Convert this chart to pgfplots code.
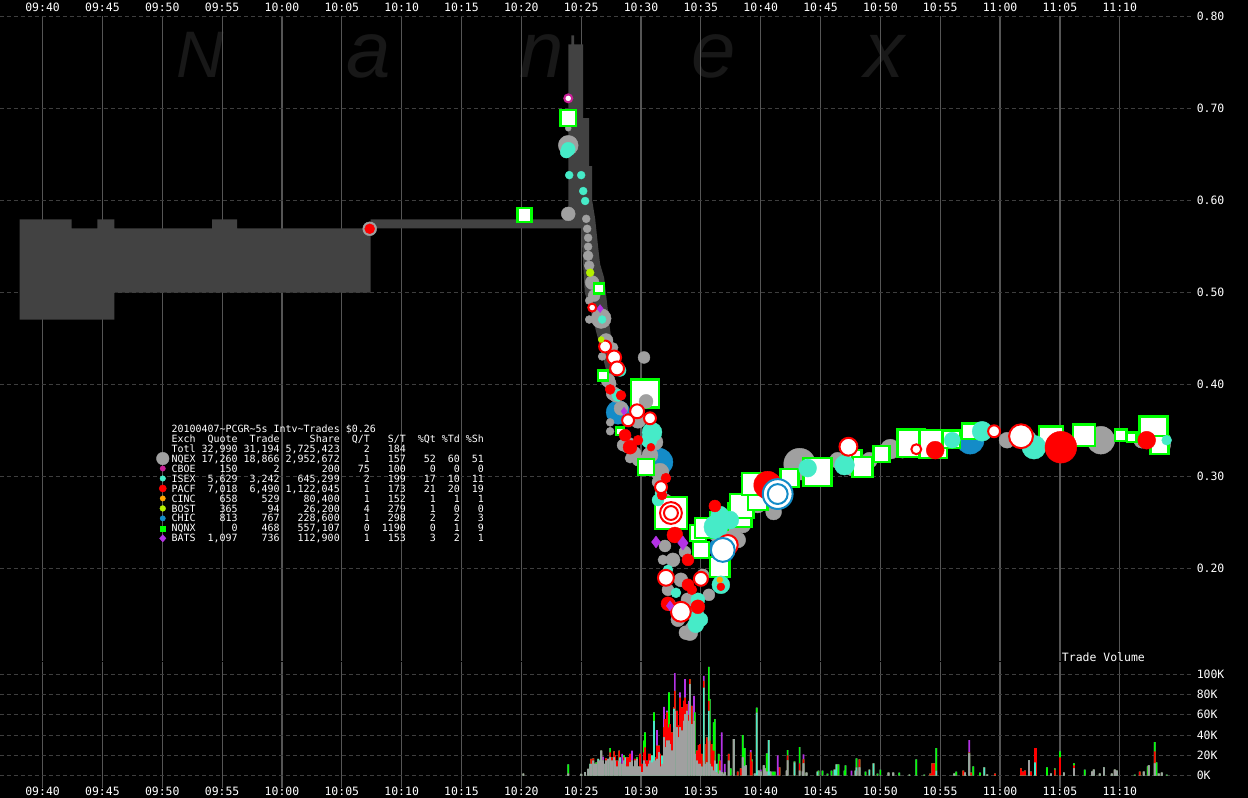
\documentclass[border=0pt]{standalone}
\usepackage{fontspec}
\usepackage{pgfplots}
\usepackage{pgfplotstable}
\pgfplotsset{compat=1.18}
\newfontfamily\monofont{DejaVu Sans Mono}
\newfontfamily\wmfont{Liberation Sans}
\newcommand\axfont{\monofont\fontsize{11.5bp}{12bp}\selectfont}
\newcommand\legfont{\monofont\fontsize{10bp}{10bp}\selectfont}
\definecolor{nqex}{RGB}{160,160,160}
\definecolor{cboe}{RGB}{200,30,150}
\definecolor{isex}{RGB}{70,235,200}
\definecolor{pacf}{RGB}{255,0,0}
\definecolor{cinc}{RGB}{255,165,0}
\definecolor{bost}{RGB}{180,240,0}
\definecolor{chic}{RGB}{20,140,200}
\definecolor{nqnx}{RGB}{0,255,0}
\definecolor{bats}{RGB}{180,50,230}
\definecolor{band}{RGB}{66,66,66}
\definecolor{vgrid}{RGB}{85,85,85}
\definecolor{hgrid}{RGB}{62,62,62}
\definecolor{wm}{RGB}{24,24,24}
\newlength\cw
\newcommand\trow[9]{\makebox[4\cw][l]{#1}\makebox[7\cw][r]{#2}\makebox[7\cw][r]{#3}\makebox[10\cw][r]{#4}\makebox[5\cw][r]{#5}\makebox[6\cw][r]{#6}\makebox[5\cw][r]{#7}\makebox[4\cw][r]{#8}\makebox[4\cw][r]{#9}}
\pgfplotsset{
 base/.style={only marks, scatter, forget plot,
   visualization depends on={\thisrow{r}\as\msz},
   scatter/@pre marker code/.code={\pgfsetplotmarksize{\msz pt}\scope[#1]},
   scatter/@post marker code/.code={\endscope}},
 dot/.style={base={draw=#1, fill=#1, line width=0.4bp}, mark=*},
 ring/.style={base={draw=#1, fill=white, line width=2bp}, mark=*},
 sq/.style={base={draw=nqnx, fill=white, line width=2.5bp}, mark=square*},
 dia/.style={base={draw=#1, fill=#1, line width=0.4bp}, mark=diamond*},
 vb/.style={ybar, bar width=1.7bp, bar shift=0pt, draw=none, fill=#1, forget plot},
 timex/.style={xmin=6.4167, xmax=106,
   xtick={10,15,20,25,30,35,40,45,50,55,60,65,70,75,80,85,90,95,100},
   xticklabels={09:40,09:45,09:50,09:55,10:00,10:05,10:10,10:15,10:20,10:25,10:30,10:35,10:40,10:45,10:50,10:55,11:00,11:05,11:10},
   xmajorgrids, ymajorgrids,
   x grid style={vgrid, line width=1.2bp, solid},
   y grid style={hgrid, line width=1bp, dash pattern=on 4bp off 3bp},
   axis line style={draw=none}, tick style={draw=none},
   yticklabel pos=right,
   yticklabel style={font=\axfont, text=white, anchor=west, inner sep=0pt, xshift=5bp}},
}
% ---------------- trade markers: t = minutes after 09:30, p = price, r = size
\pgfplotstableread{
t p r
37.33 0.5693 7
53.92 0.5855 7
53.92 0.6785 3
53.92 0.6600 10
55.42 0.5801 4
55.50 0.5693 4
55.58 0.5595 4
55.58 0.5498 4
55.58 0.5400 5
55.67 0.5292 5
55.92 0.5108 7
56.08 0.4967 6
55.67 0.4913 4
56.67 0.4718 10
55.67 0.4707 4
57.08 0.4479 7
57.67 0.4403 5
56.75 0.4306 4
57.25 0.4046 7
57.42 0.4013 6
57.67 0.3905 7
57.92 0.3883 7
58.33 0.3742 7
60.25 0.4295 6
57.42 0.3590 4
57.42 0.3493 4
59.75 0.3612 8
58.92 0.3342 8
58.50 0.3342 6
59.42 0.3255 7
59.08 0.3201 5
59.75 0.3180 6
60.75 0.3234 8
61.17 0.3374 8
61.58 0.3049 9
61.42 0.2941 6
62.08 0.2746 6
62.00 0.2247 6
63.67 0.2182 6
61.83 0.2096 5
62.67 0.2096 7
62.08 0.1933 6
63.33 0.1879 7
62.25 0.1771 6
62.42 0.1608 6
63.92 0.1662 7
63.08 0.1446 7
63.75 0.1305 7
64.08 0.1305 8
64.33 0.1360 7
65.17 0.1933 6
65.67 0.1716 6
66.58 0.2420 13
66.25 0.2475 8
67.50 0.2420 10
68.08 0.2312 8
68.50 0.2475 8
69.75 0.2692 8
71.08 0.2616 8
73.25 0.3136 16
76.42 0.3178 8
77.67 0.3093 8
79.08 0.3178 8
80.83 0.3299 10
81.83 0.3288 8
88.83 0.3493 6
90.58 0.3396 8
92.25 0.3396 10
94.25 0.3374 7
98.42 0.3396 14
101.83 0.3396 8
103.50 0.3342 9
}\nqexT
\pgfplotstableread{
t p r
60.42 0.3818 7
}\nqexF
\pgfplotstableread{
t p r
53.92 0.6557 7
53.75 0.6526 6
54.00 0.6276 4
55.00 0.6276 4
55.17 0.6103 4
55.33 0.5995 4
56.75 0.4707 4
58.25 0.4154 6
58.08 0.3883 6
60.92 0.3482 10
60.67 0.3396 8
61.67 0.2822 6
61.42 0.2746 6
66.25 0.2453 12
66.58 0.2583 9
67.42 0.2529 9
66.67 0.1825 9
64.58 0.1500 8
64.58 0.1391 8
64.75 0.1662 7
65.00 0.1446 7
62.92 0.1738 5
62.25 0.1987 5
73.92 0.3093 9
77.00 0.3125 10
86.00 0.3396 8
88.50 0.3493 10
92.83 0.3320 12
103.92 0.3396 5
}\isexT
\pgfplotstableread{
t p r
37.33 0.5693 5
58.33 0.3883 5
57.42 0.3948 5
58.67 0.3450 6
59.75 0.3396 5
59.08 0.3320 7
60.83 0.3320 4
62.08 0.2984 5
61.75 0.2800 5
62.83 0.2366 8
63.92 0.2096 6
62.25 0.1619 7
64.75 0.1586 7
64.25 0.1771 5
61.83 0.1879 5
63.92 0.1825 6
66.83 0.2171 8
66.17 0.2681 6
66.67 0.1803 4
70.58 0.2908 14
84.58 0.3288 9
95.08 0.3320 16
102.25 0.3396 9
}\pacfT
\pgfplotstableread{
t p r
55.92 0.4837 4
57.00 0.4414 6
57.75 0.4295 7
58.00 0.4176 7
58.92 0.3612 6
59.67 0.3710 7
60.75 0.3634 6
61.67 0.2886 6
62.50 0.2605 11
62.50 0.2605 7
62.08 0.1901 8
63.33 0.1532 10
65.00 0.1890 7
67.25 0.2258 10
77.33 0.3325 9
83.00 0.3298 5
89.50 0.3493 6
91.75 0.3439 12
}\pacfR
\pgfplotstableread{
t p r
58.08 0.3699 12
61.50 0.3158 14
66.50 0.2225 10
87.50 0.3396 14
}\chicT
\pgfplotstableread{
t p r
71.42 0.2811 15
71.42 0.2811 10
66.83 0.2204 12
}\chicR
\pgfplotstableread{
t p r
50.25 0.5844 7
53.92 0.6895 8
56.50 0.5043 5
56.83 0.4100 5
58.25 0.3493 4
60.33 0.3905 14
60.42 0.3104 8
62.50 0.2605 16
64.75 0.2388 8
65.00 0.2204 8
65.33 0.2442 10
66.50 0.2518 9
66.58 0.2020 10
68.25 0.2583 12
68.42 0.2681 12
69.75 0.2746 10
69.33 0.2919 11
72.42 0.2984 9
74.75 0.3049 14
77.67 0.3190 9
78.50 0.3104 10
80.08 0.3244 8
82.58 0.3363 14
84.42 0.3353 14
85.92 0.3406 9
87.50 0.3493 8
94.25 0.3417 12
97.00 0.3450 11
100.08 0.3450 6
101.00 0.3428 5
102.83 0.3504 14
103.33 0.3342 9
}\nqnxT
\pgfplotstableread{
t p r
56.58 0.4826 4
58.58 0.3710 4
61.25 0.2290 6
63.50 0.2279 7
62.42 0.1597 5
}\batsT
\pgfplotstableread{
t p r
55.75 0.5216 4
56.67 0.4490 3
}\bostT
\pgfplotstableread{
t p r
66.58 0.1879 3
}\cincT
\pgfplotstableread{
t p r
53.92 0.7110 4
}\cboeT
% ---------------- volume (K shares), cumulative layers: gray, +turq, +red, +green, top
\pgfplotstableread{
t g q r n b
50.17 2 2 2 2 2
53.92 2 2 2 11 11
55.00 1.6 1.6 1.6 1.6 1.6
55.33 3.3 3.3 3.3 3.3 3.3
55.58 6.6 6.6 6.6 6.6 6.6
55.75 8.9 11.5 11.5 11.5 11.5
55.83 11.5 11.5 16.4 16.4 16.4
56.00 14.8 14.8 17 17 17
56.17 11.5 11.5 11.5 11.5 11.5
56.25 11.5 11.5 11.5 13 13
56.42 14.8 16.4 16.4 16.4 16.4
56.58 14.8 14.8 14.8 14.8 14.8
56.67 24.6 24.6 24.6 24.6 24.6
56.83 14.8 14.8 14.8 14.8 18.7
57.00 11.5 11.5 11.5 11.5 11.5
57.08 14.8 14.8 17 17 17
57.25 16.4 16.4 16.4 16.4 16.4
57.42 18 18 23 27.2 27.2
57.58 14.8 14.8 18 18 18
57.75 18 18 23.9 23.9 23.9
57.83 14.8 14.8 19.7 19.7 19.7
58.00 8.9 8.9 14.8 14.8 14.8
58.17 14.8 14.8 24.6 24.6 24.6
58.25 13 18 18 18 18
58.42 11.5 11.5 11.5 11.5 21.3
58.58 14.8 14.8 18 20 20
58.67 11.5 18 18 18 18
58.83 8.9 8.9 18 18 18
59.00 8.9 8.9 18 18 18
59.08 13 13 21.3 21.3 21.3
59.25 14.8 14.8 14.8 14.8 24.6
59.42 8.9 8.9 8.9 8.9 8.9
59.50 14.8 14.8 16.4 16.4 16.4
59.67 16.4 16.4 16.4 18 18
59.83 8.9 8.9 8.9 8.9 8.9
59.92 8.9 8.9 21.3 21.3 21.3
60.08 3.3 3.3 11.5 11.5 11.5
60.25 14.8 14.8 23 34.4 34.4
60.33 11.5 11.5 27.9 42.6 42.6
60.50 8.9 8.9 14.8 14.8 14.8
60.67 11.5 11.5 21.3 21.3 21.3
60.75 14.8 14.8 21.3 21.3 21.3
60.92 13 20 20 20 20
61.08 14.8 54.1 54.1 62.3 62.3
61.17 14.8 14.8 18 18 18
61.33 16.4 16.4 29.5 29.5 44.9
61.50 23 23 29.5 29.5 29.5
61.58 8.9 8.9 21.3 21.3 21.3
61.75 11.5 19.7 19.7 19.7 19.7
61.92 37.7 37.7 47.5 47.5 67.9
62.00 27.9 27.9 55.7 55.7 55.7
62.17 34.4 34.4 62.3 62.3 64
62.33 34.4 34.4 47.5 82 82
62.42 31.1 31.1 50.8 50.8 50.8
62.58 24.6 24.6 42.6 42.6 42.6
62.75 47.5 66 67.2 67.2 67.2
62.83 63.9 63.9 83.6 83.6 101
63.00 47.5 47.5 63.9 63.9 63.9
63.17 37.7 37.7 49.2 49.2 49.2
63.25 47.5 47.5 77 77 82
63.42 44.3 44.3 67.2 67.2 67.2
63.58 54.1 54.1 73.8 73.8 73.8
63.67 60.7 60.7 77 77 95.1
63.83 63.9 63.9 70.5 70.5 70.5
64.00 54.1 54.1 60 60 73.8
64.08 90.2 90.2 95.1 95.1 95.1
64.25 50.8 50.8 68.9 68.9 68.9
64.42 54.1 54.1 54.1 54.1 78.7
64.50 21.3 21.3 21.3 62.3 62.3
64.67 14.8 14.8 24.6 24.6 24.6
64.83 11.5 11.5 30 30 30
64.92 11.5 11.5 31.1 31.1 31.1
65.08 8.9 8.9 21.3 21.3 21.3
65.25 14.8 86.9 93.4 93.4 98.4
65.33 11.5 11.5 31.1 31.1 31.1
65.50 13 13 37.7 37.7 37.7
65.67 34.4 63.9 73.8 107.2 107.2
65.75 11.5 11.5 34.4 75.4 75.4
65.92 8.9 8.9 31.1 31.1 31.1
66.08 4.9 4.9 24.6 52.5 52.5
66.17 14.8 14.8 14.8 55.7 55.7
66.33 3.3 11.5 11.5 11.5 11.5
66.50 1.6 1.6 1.6 21.3 21.3
66.58 4.9 4.9 14.8 14.8 14.8
66.75 3.3 3.3 3.3 3.3 42.6
66.92 1.6 1.6 1.6 1.6 1.6
67.00 3.3 3.3 3.3 3.3 11.5
67.33 14.8 14.8 21.3 21.3 21.3
67.50 0 0 0 7 7
67.75 36 36 36 36 36
68.08 0 0 4 4 4
68.33 0 0 7 7 7
68.50 18 18 18 40 40
68.67 9 9 9 27 27
68.75 10 10 10 10 10
69.17 0 0 23 23 25
69.25 0 0 14 16 16
69.50 2 2 2 2 2
69.67 0 62 62 67 67
69.83 5 5 5 5 5
70.00 4 4 4 4 6
70.25 10 10 10 10 10
70.33 7 7 7 7 7
70.50 4 4 4 22 22
70.67 0 35 35 35 35
70.83 4 4 4 4 4
71.00 0 0 0 4 4
71.17 0 0 0 4 4
71.42 0 0 0 0 20
71.58 0 0 8 8 8
72.17 5 5 5 5 5
72.25 15 15 20 25 25
72.83 0 13 13 14 14
73.25 5 5 12 28 28
73.50 4 4 5 5 5
73.58 12 12 16 16 21
73.83 3 3 3 3 3
74.75 0 4 4 4 4
74.83 0 0 0 5 5
75.17 0 0 0 5 5
75.58 0 0 0 2 2
75.92 0 0 0 5 5
76.17 0 6 6 6 6
76.33 0 11 11 11 11
76.50 0 0 0 11 11
77.00 0 0 0 5 5
77.08 0 0 0 10 10
77.58 0 0 0 0 5
77.92 0 5 5 5 5
78.00 5 8 8 17 17
78.25 8 8 16 16 16
78.75 0 0 0 4 4
79.08 0 6 6 6 6
79.42 0 12 12 12 12
79.75 0 0 0 2 2
80.00 0 0 0 6 6
80.67 3 3 3 3 3
81.08 3 3 3 3 3
81.58 0 0 0 3 3
82.42 0 1 1 1 1
83.00 0 0 0 16 16
83.67 0 0 0 1 1
84.17 0 0 2 2 2
84.33 0 0 12 12 12
84.50 0 0 12 12 12
84.67 0 5 5 27 27
86.17 2 2 2 2 2
86.33 0 0 0 4 4
86.92 0 0 5 5 5
87.08 3 3 3 3 3
87.42 22 22 23 23 35
87.58 0 0 3 3 3
87.75 0 0 0 9 9
88.33 0 0 0 3 3
88.67 0 8 8 8 8
88.92 1 1 1 1 1
89.58 0 0 2 2 2
91.75 0 0 7 7 7
91.92 0 0 4 4 4
92.08 0 0 5 5 5
92.42 15 15 15 15 15
92.58 0 0 4 4 4
92.92 0 13 27 27 27
93.00 0 0 27 27 27
93.92 0 0 0 8 8
94.25 2 2 2 2 2
94.58 0 0 6 7 7
95.00 0 0 18 24 24
95.33 3 3 3 3 3
96.17 7 7 10 12 12
97.08 0 0 0 6 6
97.67 4 4 4 4 4
97.83 6 6 6 6 6
98.33 2 2 2 2 2
98.67 8 8 8 8 8
99.33 2 2 2 2 2
99.58 6 6 6 6 6
99.75 5 5 5 5 5
101.25 0 0 0 1 1
101.67 0 0 4 4 4
102.00 4 4 4 4 4
102.33 0 0 0 9 9
102.42 10 10 10 10 10
102.92 12 12 24 33 33
103.08 0 0 0 13 13
103.25 2 2 2 2 2
103.50 3 3 3 3 3
103.92 0 0 0 1 1
}\volT
\begin{document}
\settowidth{\cw}{\legfont 0}
\begin{tikzpicture}[x=1bp,y=1bp]
\fill[black] (-6,-6) rectangle (1254,806);
% watermark
\node[anchor=base, inner sep=0pt, text height=48bp, text depth=0pt, text=wm, font=\wmfont\itshape\fontsize{66bp}{66bp}\selectfont] at (197,722) {N};
\node[anchor=base, inner sep=0pt, text height=42bp, text depth=0pt, text=wm, font=\wmfont\itshape\fontsize{80bp}{80bp}\selectfont] at (366,722) {a};
\node[anchor=base, inner sep=0pt, text height=42bp, text depth=0pt, text=wm, font=\wmfont\itshape\fontsize{80bp}{80bp}\selectfont] at (540,722) {n};
\node[anchor=base, inner sep=0pt, text height=42bp, text depth=0pt, text=wm, font=\wmfont\itshape\fontsize{80bp}{80bp}\selectfont] at (712,722) {e};
\node[anchor=base, inner sep=0pt, text height=42bp, text depth=0pt, text=wm, font=\wmfont\itshape\fontsize{80bp}{80bp}\selectfont] at (883,722) {x};
% price axis
\begin{axis}[at={(-3,149)}, anchor=south west, scale only axis, width=1195bp, height=646bp,
  timex, ymin=0.1, ymax=0.8,
  xticklabel pos=upper,
  xticklabel style={font=\axfont, text=white, anchor=base, yshift=4.9bp},
  ytick={0.2,0.3,0.4,0.5,0.6,0.7,0.8},
  yticklabels={0.20,0.30,0.40,0.50,0.60,0.70,0.80},
  legend cell align=left,
  legend style={at={(0.1312,0.368)}, anchor=north west, draw=none, fill=none,
    inner sep=0pt, outer sep=0pt, inner xsep=0pt, inner ysep=0pt, font=\legfont, text=white, row sep=0pt,
    nodes={inner sep=0pt, text height=8.6bp, text depth=1.4bp}}]
\addplot[fill=band, draw=none, forget plot] coordinates {
 (8.083,0.5795)(12.417,0.5795)(12.417,0.5698)(14.583,0.5698)(14.583,0.5795)(16.0,0.5795)
 (16.0,0.5698)(24.167,0.5698)(24.167,0.5795)(26.25,0.5795)(26.25,0.5698)(37.417,0.5698)
 (37.417,0.4999)(16.0,0.4999)(16.0,0.4707)(8.083,0.4707)} -- cycle;
\addplot[fill=band, draw=none, forget plot] coordinates {
 (37.417,0.5795)(53.92,0.5795)(53.92,0.7697)(54.17,0.7697)(54.17,0.7795)(54.42,0.7795)
 (54.42,0.7697)(55.17,0.7697)(55.17,0.6895)(55.67,0.6895)(55.67,0.6375)(55.92,0.6375)
 (55.92,0.600)(56.17,0.580)(56.42,0.549)(56.58,0.531)(56.92,0.516)(57.42,0.459)
 (58.0,0.41)(57.2,0.41)(56.4,0.45)(55.8,0.48)(55.3,0.50)
 (55.0,0.5698)(37.417,0.5698)} -- cycle;
\addplot[dot=chic] table[x=t,y=p]{\chicT};
\addplot[dot=nqex] table[x=t,y=p]{\nqexT};
\addplot[sq] table[x=t,y=p]{\nqnxT};
\addplot[dot=nqex] table[x=t,y=p]{\nqexF};
\addplot[dot=isex] table[x=t,y=p]{\isexT};
\addplot[dot=pacf] table[x=t,y=p]{\pacfT};
\addplot[ring=pacf] table[x=t,y=p]{\pacfR};
\addplot[ring=chic] table[x=t,y=p]{\chicR};
\addplot[dia=bats] table[x=t,y=p]{\batsT};
\addplot[dot=bost] table[x=t,y=p]{\bostT};
\addplot[dot=cinc] table[x=t,y=p]{\cincT};
\addplot[ring=cboe] table[x=t,y=p]{\cboeT};
% legend table
\addlegendimage{empty legend}
\addlegendentry{20100407\textasciitilde PCGR\textasciitilde 5s Intv\textasciitilde Trades \$0.26}
\addlegendimage{empty legend}
\addlegendentry{\trow{Exch}{Quote}{Trade}{Share}{Q/T}{S/T}{\%Qt}{\%Td}{\%Sh}}
\addlegendimage{empty legend}
\addlegendentry{\trow{Totl}{32,990}{31,194}{5,725,423}{2}{184}{}{}{}}
\addlegendimage{legend image code/.code={\fill[nqex, overlay] (0,0) circle[radius=6.3bp]; \path (-6.5bp,-2bp) (8.7bp,2bp);}}
\addlegendentry{\trow{NQEX}{17,260}{18,866}{2,952,672}{1}{157}{52}{60}{51}}
\addlegendimage{legend image code/.code={\fill[cboe, overlay] (0,0) circle[radius=2.7bp]; \path (-6.5bp,-2bp) (8.7bp,2bp);}}
\addlegendentry{\trow{CBOE}{150}{2}{200}{75}{100}{0}{0}{0}}
\addlegendimage{legend image code/.code={\fill[isex, overlay] (0,0) circle[radius=2.8bp]; \path (-6.5bp,-2bp) (8.7bp,2bp);}}
\addlegendentry{\trow{ISEX}{5,629}{3,242}{645,299}{2}{199}{17}{10}{11}}
\addlegendimage{legend image code/.code={\fill[pacf, overlay] (0,0) circle[radius=3.6bp]; \path (-6.5bp,-2bp) (8.7bp,2bp);}}
\addlegendentry{\trow{PACF}{7,018}{6,490}{1,122,045}{1}{173}{21}{20}{19}}
\addlegendimage{legend image code/.code={\fill[cinc, overlay] (0,0) circle[radius=2.7bp]; \path (-6.5bp,-2bp) (8.7bp,2bp);}}
\addlegendentry{\trow{CINC}{658}{529}{80,400}{1}{152}{1}{1}{1}}
\addlegendimage{legend image code/.code={\fill[bost, overlay] (0,0) circle[radius=2.9bp]; \path (-6.5bp,-2bp) (8.7bp,2bp);}}
\addlegendentry{\trow{BOST}{365}{94}{26,200}{4}{279}{1}{0}{0}}
\addlegendimage{legend image code/.code={\fill[chic, overlay] (0,0) circle[radius=2.7bp]; \path (-6.5bp,-2bp) (8.7bp,2bp);}}
\addlegendentry{\trow{CHIC}{813}{767}{228,600}{1}{298}{2}{2}{3}}
\addlegendimage{legend image code/.code={\fill[nqnx, overlay] (-2.4bp,-2.4bp) rectangle (2.4bp,2.4bp); \path (-6.5bp,-2bp) (8.7bp,2bp);}}
\addlegendentry{\trow{NQNX}{0}{468}{557,107}{0}{1190}{0}{1}{9}}
\addlegendimage{legend image code/.code={\fill[bats, overlay] (0,3.6bp)--(3.2bp,0)--(0,-3.6bp)--(-3.2bp,0)--cycle; \path (-6.5bp,-2bp) (8.7bp,2bp);}}
\addlegendentry{\trow{BATS}{1,097}{736}{112,900}{1}{153}{3}{2}{1}}
\end{axis}
% volume axis
\begin{axis}[at={(-3,10)}, anchor=south west, scale only axis, width=1195bp, height=126bp,
  timex, ymin=-12, ymax=112,
  xticklabel pos=lower,
  xticklabel style={font=\axfont, text=white, anchor=base, yshift=-8bp},
  ytick={0,20,40,60,80,100}, yticklabels={0K,20K,40K,60K,80K,100K}]
\addplot[vb=bats] table[x=t,y=b]{\volT};
\addplot[vb=nqnx] table[x=t,y=n]{\volT};
\addplot[vb=pacf] table[x=t,y=r]{\volT};
\addplot[vb=isex] table[x=t,y=q]{\volT};
\addplot[vb=nqex] table[x=t,y=g]{\volT};
\end{axis}
\node[font=\axfont, text=white] at (1103,141) {Trade Volume};
\pgfresetboundingbox
\path[use as bounding box] (0,0) rectangle (1248,800);
\end{tikzpicture}
\end{document}
